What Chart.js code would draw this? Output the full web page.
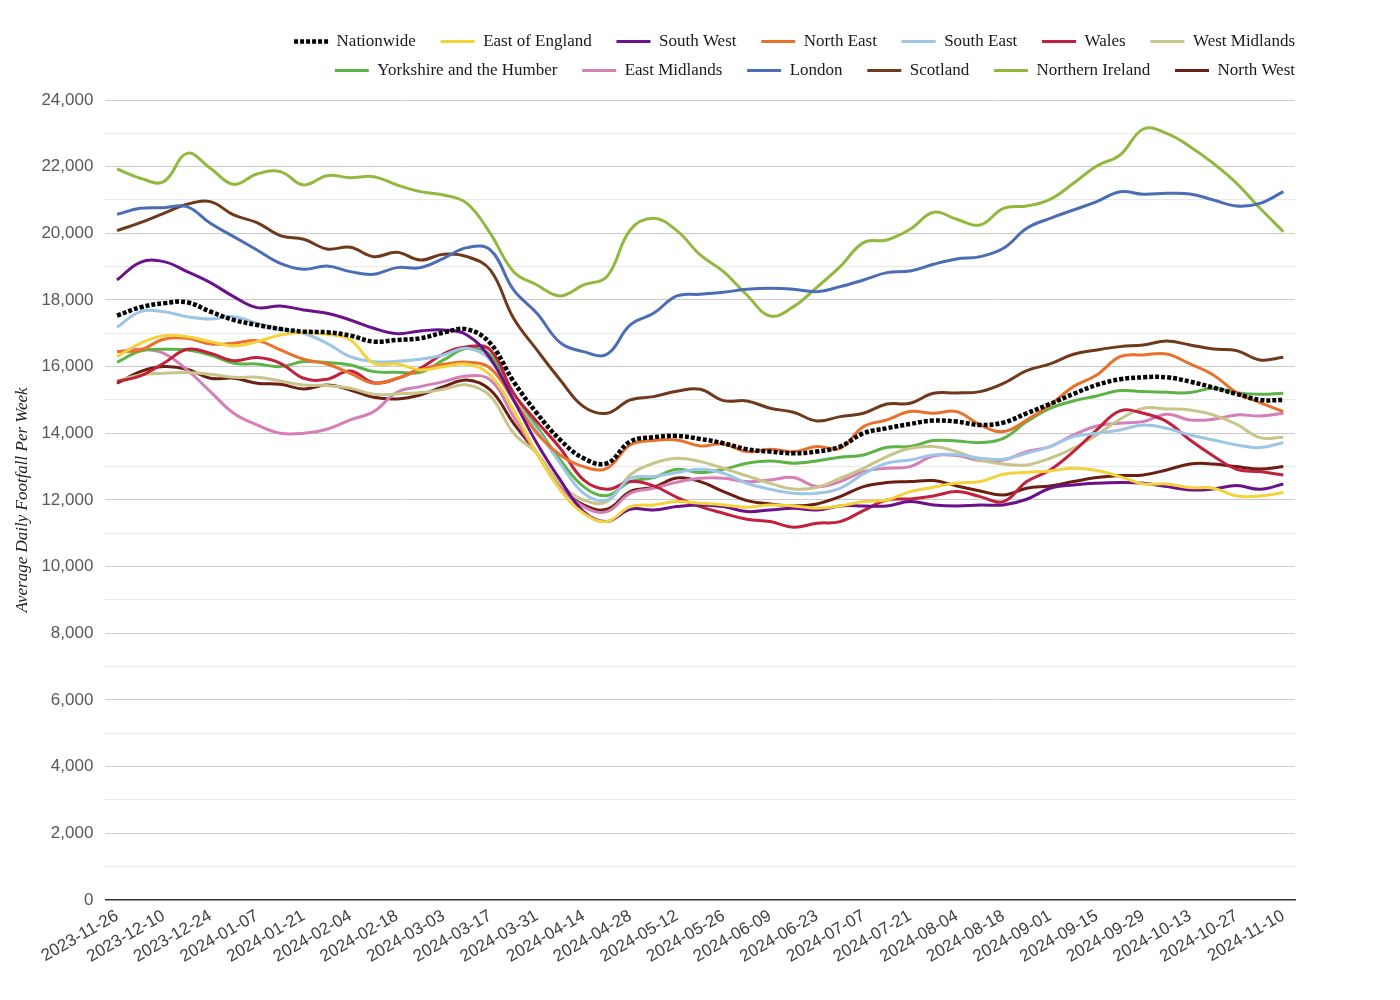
<!DOCTYPE html>
<html>
<head>
<meta charset="utf-8">
<title>Average Daily Footfall Per Week</title>
<script src="https://cdn.jsdelivr.net/npm/chart.js@4"></script>
<style>
  html, body { margin: 0; padding: 0; background: #fff; }
  #wrap { width: 1400px; height: 1000px; }
</style>
</head>
<body>
<div id="wrap"><canvas id="footfallChart"></canvas></div>
<script>
// ===========================
// DATA
// ===========================
const weeks = [
  '2023-11-26', '2023-12-03', '2023-12-10', '2023-12-17', '2023-12-24', '2023-12-31',
  '2024-01-07', '2024-01-14', '2024-01-21', '2024-01-28', '2024-02-04', '2024-02-11',
  '2024-02-18', '2024-02-25', '2024-03-03', '2024-03-10', '2024-03-17', '2024-03-24',
  '2024-03-31', '2024-04-07', '2024-04-14', '2024-04-21', '2024-04-28', '2024-05-05',
  '2024-05-12', '2024-05-19', '2024-05-26', '2024-06-02', '2024-06-09', '2024-06-16',
  '2024-06-23', '2024-06-30', '2024-07-07', '2024-07-14', '2024-07-21', '2024-07-28',
  '2024-08-04', '2024-08-11', '2024-08-18', '2024-08-25', '2024-09-01', '2024-09-08',
  '2024-09-15', '2024-09-22', '2024-09-29', '2024-10-06', '2024-10-13', '2024-10-20',
  '2024-10-27', '2024-11-03', '2024-11-10'
];

const yTicks = [0, 2000, 4000, 6000, 8000, 10000, 12000, 14000, 16000, 18000, 20000, 22000, 24000];

const nationwide = [
  17530, 17780, 17900, 17930, 17650, 17400, 17250, 17130, 17050, 17030, 16930, 16750, 16800,
  16850, 17020, 17120, 16700, 15550, 14600, 13800, 13250, 13100, 13750, 13880, 13920,
  13830, 13700, 13520, 13450, 13400, 13450, 13600, 14000, 14150, 14280, 14380, 14350,
  14250, 14320, 14600, 14880, 15180, 15450, 15620, 15680, 15680, 15550, 15370, 15180, 15000, 15000
];
const eastOfEngland = [
  16300, 16700, 16930, 16900, 16750, 16620, 16750, 16950, 17020, 16970, 16800, 16100, 16080,
  15900, 16000, 16070, 15750, 14700, 13400, 12300, 11600, 11350, 11800, 11850, 11950,
  11900, 11850, 11780, 11850, 11820, 11750, 11820, 11950, 12000, 12250, 12380, 12510,
  12550, 12770, 12830, 12870, 12950, 12880, 12700, 12480, 12480, 12370, 12350, 12120, 12120, 12220
];
const southWest = [
  18600, 19130, 19150, 18850, 18520, 18100, 17770, 17820, 17700, 17600, 17400, 17150, 16990,
  17070, 17100, 16950, 16250, 15000, 13700, 12600, 11650, 11350, 11720, 11700, 11800,
  11850, 11800, 11650, 11700, 11750, 11700, 11820, 11820, 11820, 11950, 11850, 11820,
  11850, 11850, 12020, 12350, 12450, 12500, 12520, 12500, 12400, 12300, 12330, 12430, 12320, 12480
];
const northEast = [
  16450, 16500, 16820, 16850, 16680, 16700, 16780, 16500, 16220, 16080, 15800, 15500, 15650,
  15900, 16070, 16130, 15950, 15000, 14000, 13350, 13000, 12950, 13650, 13780, 13800,
  13620, 13680, 13450, 13520, 13450, 13600, 13550, 14200, 14400, 14650, 14600, 14650,
  14250, 14050, 14400, 14850, 15400, 15750, 16300, 16350, 16380, 16080, 15750, 15220, 14920, 14650
];
const southEast = [
  17180, 17650, 17650, 17500, 17430, 17500, 17300, 17120, 17000, 16700, 16300, 16150, 16160,
  16220, 16350, 16550, 16200, 15000, 14100, 13100, 12200, 12000, 12650, 12700, 12820,
  12920, 12800, 12500, 12320, 12200, 12200, 12350, 12780, 13100, 13200, 13350, 13360,
  13250, 13220, 13400, 13600, 13900, 14000, 14100, 14250, 14150, 13950, 13800, 13650, 13570, 13720
];
const wales = [
  15550, 15720, 16100, 16520, 16400, 16180, 16270, 16100, 15650, 15620, 15870, 15520, 15640,
  15950, 16380, 16600, 16500, 15200, 14350, 13550, 12600, 12320, 12550, 12420, 12080,
  11800, 11600, 11420, 11350, 11180, 11300, 11350, 11680, 12000, 12030, 12120, 12250,
  12100, 11950, 12550, 12900, 13450, 14100, 14670, 14600, 14350, 13800, 13320, 12920, 12850, 12750
];
const westMidlands = [
  15570, 15750, 15800, 15820, 15770, 15680, 15680, 15570, 15450, 15430, 15350, 15170, 15180,
  15220, 15320, 15450, 15120, 14000, 13400, 12500, 12000, 11950, 12750, 13100, 13250,
  13150, 12950, 12720, 12500, 12330, 12380, 12650, 12950, 13300, 13550, 13600, 13450,
  13200, 13080, 13050, 13250, 13550, 13950, 14420, 14750, 14730, 14700, 14550, 14270, 13870, 13880
];
const yorkshire = [
  16130, 16470, 16520, 16500, 16350, 16100, 16080, 16000, 16150, 16120, 16050, 15850, 15830,
  15830, 16200, 16550, 16350, 15200, 14200, 13200, 12400, 12130, 12550, 12670, 12920,
  12820, 12920, 13100, 13170, 13100, 13170, 13280, 13350, 13580, 13600, 13780, 13770,
  13720, 13850, 14350, 14750, 14970, 15120, 15280, 15250, 15230, 15220, 15350, 15220, 15170, 15200
];
const eastMidlands = [
  16450, 16520, 16400, 15900, 15250, 14600, 14250, 14000, 14000, 14120, 14400, 14650, 15230,
  15400, 15550, 15720, 15600, 14500, 13400, 12400, 11800, 11650, 12200, 12350, 12530,
  12650, 12650, 12550, 12600, 12670, 12400, 12550, 12850, 12950, 13000, 13320, 13330,
  13180, 13200, 13450, 13600, 13950, 14220, 14300, 14350, 14570, 14400, 14420, 14550, 14520, 14600
];
const london = [
  20570, 20750, 20770, 20800, 20300, 19900, 19500, 19100, 18920, 19020, 18850, 18770, 18970,
  18970, 19250, 19570, 19500, 18300, 17600, 16720, 16450, 16370, 17250, 17600, 18120,
  18170, 18230, 18320, 18350, 18320, 18250, 18400, 18600, 18820, 18870, 19070, 19230,
  19300, 19550, 20150, 20450, 20700, 20950, 21250, 21170, 21200, 21180, 21000, 20820, 20900, 21250
];
const scotland = [
  20080, 20320, 20600, 20870, 20950, 20550, 20320, 19930, 19820, 19530, 19580, 19300, 19430,
  19200, 19370, 19300, 18900, 17450, 16500, 15600, 14800, 14600, 15000, 15100, 15260,
  15320, 14980, 14970, 14750, 14630, 14370, 14500, 14600, 14880, 14900, 15200, 15210,
  15250, 15500, 15880, 16080, 16370, 16500, 16600, 16650, 16770, 16650, 16530, 16480, 16200, 16280
];
const northernIreland = [
  21930, 21650, 21550, 22400, 21950, 21470, 21780, 21850, 21450, 21730, 21670, 21700, 21450,
  21250, 21150, 20900, 20000, 18850, 18450, 18120, 18450, 18700, 20100, 20450, 20080,
  19350, 18850, 18150, 17520, 17800, 18380, 19000, 19720, 19800, 20120, 20630, 20420,
  20250, 20750, 20820, 21020, 21500, 22020, 22350, 23130, 23000, 22600, 22100, 21500, 20750, 20050
];
const northWest = [
  15500, 15850, 16000, 15920, 15650, 15650, 15500, 15470, 15330, 15450, 15300, 15080, 15030,
  15150, 15400, 15600, 15300, 14300, 13400, 12400, 11850, 11720, 12250, 12380, 12660,
  12550, 12250, 11980, 11880, 11820, 11880, 12100, 12400, 12520, 12550, 12580, 12420,
  12270, 12150, 12350, 12420, 12550, 12670, 12730, 12750, 12900, 13080, 13080, 13000, 12930, 13000
];

// ===========================
// SERIES STYLING
// ===========================
const series = [
  { label: 'Nationwide',               data: nationwide,      color: '#000000', dash: [4, 2] },
  { label: 'East of England',          data: eastOfEngland,   color: '#f2d33b' },
  { label: 'South West',               data: southWest,       color: '#6b118a' },
  { label: 'North East',               data: northEast,       color: '#e8712c' },
  { label: 'South East',               data: southEast,       color: '#9cc5e6' },
  { label: 'Wales',                    data: wales,           color: '#c1213c' },
  { label: 'West Midlands',            data: westMidlands,    color: '#c8c58a' },
  { label: 'Yorkshire and the Humber', data: yorkshire,       color: '#5db346' },
  { label: 'East Midlands',            data: eastMidlands,    color: '#d57fb6' },
  { label: 'London',                   data: london,          color: '#4a6db6' },
  { label: 'Scotland',                 data: scotland,        color: '#6f3a1b' },
  { label: 'Northern Ireland',         data: northernIreland, color: '#92b93e' },
  { label: 'North West',               data: northWest,       color: '#6b1e12' }
];

// last item of each legend row gets no trailing gap
const rowEnds = ['West Midlands', 'North West'];
const LEGEND_PAD = 12;

const datasets = series.map(s => ({
  label: s.label,
  data: s.data,
  borderColor: s.color,
  backgroundColor: s.color,
  borderWidth: s.dash ? 4.5 : 3,
  borderDash: s.dash || [],
  borderCapStyle: 'butt',
  pointRadius: 0,
  pointHoverRadius: 0,
  tension: 0.4,
  fill: false
}));

// legend sits a bit higher above the plot, and flush with the plot's right edge
const legendTweak = {
  id: 'legendTweak',
  afterInit(chart) {
    const fit = chart.legend.fit;
    chart.legend.fit = function () {
      fit.call(this);
      this.height += 11;
    };
  },
  afterLayout(chart) {
    chart.legend.left += LEGEND_PAD;
    chart.legend.right += LEGEND_PAD;
  }
};

new Chart(document.getElementById('footfallChart'), {
  type: 'line',
  data: { labels: weeks, datasets },
  plugins: [legendTweak],
  options: {
    responsive: true,
    maintainAspectRatio: false,
    animation: false,
    layout: { padding: { top: 21, right: 105, bottom: 27, left: 8 } },
    plugins: {
      tooltip: { enabled: false },
      legend: {
        position: 'top',
        align: 'end',
        fullSize: false,
        labels: {
          usePointStyle: true,
          pointStyle: 'line',
          pointStyleWidth: 34,
          padding: LEGEND_PAD,
          color: '#1a1a1a',
          font: { family: '"Liberation Serif", "Times New Roman", serif', size: 17 },
          generateLabels(chart) {
            const items = Chart.defaults.plugins.legend.labels.generateLabels(chart);
            return items.map(it => {
              const ds = chart.data.datasets[it.datasetIndex];
              return Object.assign(it, {
                text: rowEnds.includes(ds.label) ? ds.label : ds.label + '   ',
                pointStyle: 'line',
                lineWidth: ds.borderDash.length ? 4.5 : 3,
                lineDash: ds.borderDash,
                strokeStyle: ds.borderColor
              });
            });
          }
        }
      }
    },
    scales: {
      x: {
        offset: true,
        grid: { display: false, drawTicks: false },
        border: { display: true, color: '#333333', width: 1.5 },
        ticks: {
          autoSkip: false,
          minRotation: 30,
          maxRotation: 30,
          padding: 6,
          color: '#404040',
          font: { family: '"Liberation Sans", Arial, sans-serif', size: 17 },
          callback: (v, i) => (i % 2 === 0 ? weeks[i] : '')
        }
      },
      y: {
        min: 0,
        max: 24000,
        grid: {
          drawTicks: false,
          color: ctx => (yTicks.includes(ctx.tick.value) ? '#cacaca' : '#e9e9e9'),
          lineWidth: 1
        },
        border: { display: false },
        ticks: {
          stepSize: 1000,
          padding: 12,
          color: '#595959',
          font: { family: '"Liberation Sans", Arial, sans-serif', size: 17 },
          callback: v => (yTicks.includes(v) ? v.toLocaleString('en-US') : '')
        },
        title: {
          display: true,
          text: 'Average Daily Footfall Per Week',
          color: '#222222',
          padding: { top: 4, bottom: -3 },
          font: { family: '"Liberation Serif", "Times New Roman", serif', size: 17, style: 'italic' }
        }
      }
    }
  }
});
</script>
</body>
</html>
